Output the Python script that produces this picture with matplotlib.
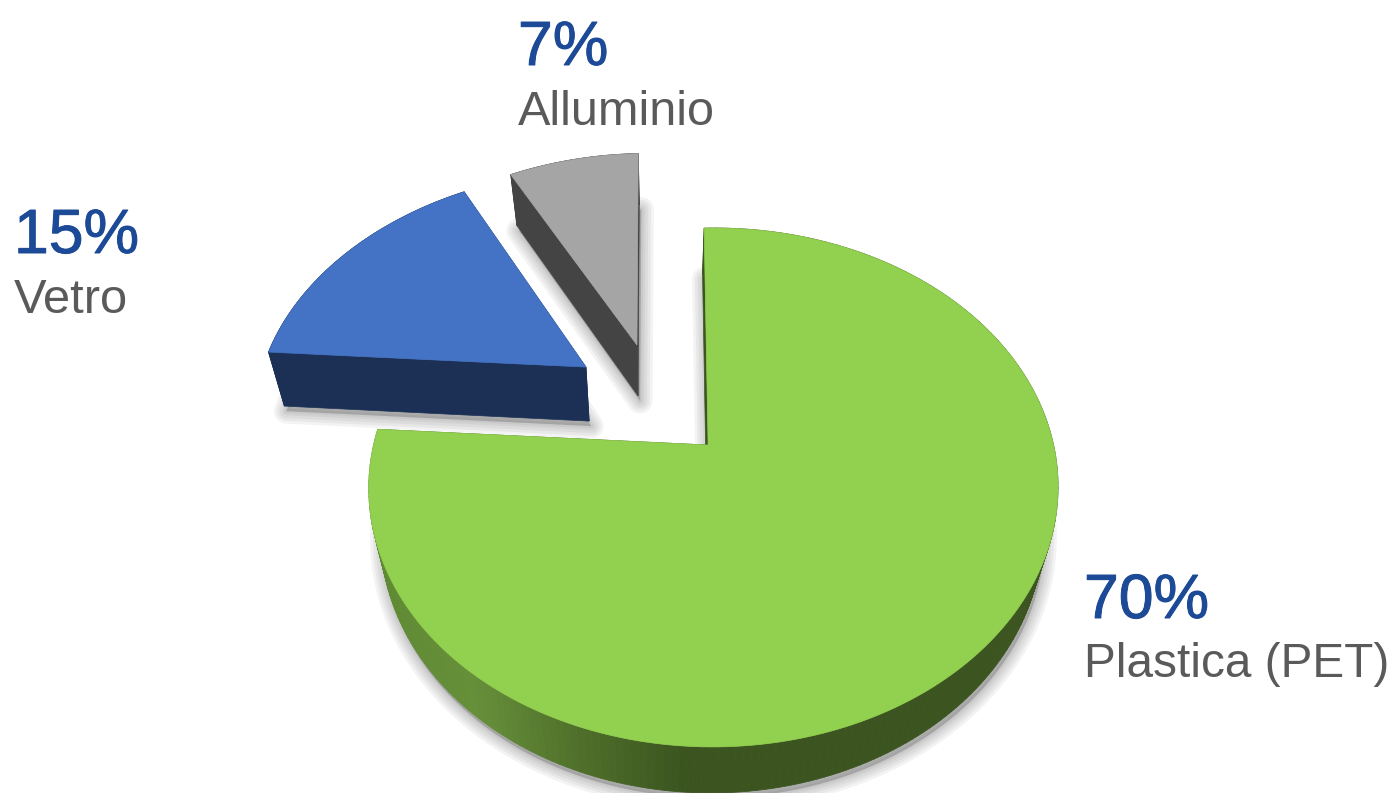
import matplotlib.patheffects as pe
import matplotlib.pyplot as plt
import numpy as np
from matplotlib.colors import LinearSegmentedColormap
from matplotlib.patches import Polygon

plt.switch_backend("Agg")

LABELS = ["Plastica (PET)", "Vetro", "Alluminio"]
SHARES = [70, 15, 7]
PERCENT_TEXT = ["70%", "15%", "7%"]

# exploded offset of each slice on the disc, disc radius = 1
EXPLODE = [(-0.016, 0.0), (-0.412, 0.325), (-0.258, 0.4236)]
APEX_SHIFT = [-0.016, 0.0, 0.0]
RADII = [1.0, 1.0, 1.0]
# small tweak of each slice's start and end angle, the picture is not a clean projection
ANGLE_TRIM = [(-1.2, 0.5), (0.7, -0.8), (-0.8, -1.2)]
DEPTHS = [46, 54, 51]
TOP_COLORS = ["#92d050", "#4472c4", "#a5a5a5"]
SIDE_COLORS = ["#3c5520", "#1b3054", "#444444"]

# label anchors: x, baseline of the percent, baseline of the name, name size
LABEL_POS = [(1084, 618, 677, 34.4), (14, 253, 313, 35.2), (518, 65, 125, 35)]

START_ANGLE = 359.2
CX, CY = 719.0, 445.0
AX, BY, PERSP = 340.0, 252.5, 0.1637
VANISH_X, SPREAD = 665.0, 0.04
TEXT_BLUE = "#1c4a97"
TEXT_GRAY = "#5a5a5a"

rim_cmap = LinearSegmentedColormap.from_list("rim", ["#5f8a33", "#668f3a", "#4f702a", "#3c5520", "#3c5520"])


def project(u, v):
    w = 1.0 + PERSP * v
    return CX + AX * u / w, CY - BY * v / w


def slice_outline(theta1, theta2, radius, offset, apex_shift):
    angles = np.radians(np.linspace(theta1, theta2, 240))
    u = np.concatenate([[apex_shift], radius * np.sin(angles)]) + offset[0]
    v = np.concatenate([[0.0], radius * np.cos(angles)]) + offset[1]
    x, y = project(u, v)
    return np.column_stack([x, y])


def extrude(points, depth):
    out = points.copy()
    out[:, 0] += SPREAD * (VANISH_X - points[:, 0])
    out[:, 1] += depth
    return out


def draw_shadow(ax, bottom):
    for lw in [18, 14, 10, 6, 3]:
        ax.add_patch(Polygon(bottom + [2, 5], closed=True, facecolor="#555555", edgecolor="#555555",
                             linewidth=lw, alpha=0.07, joinstyle="round", zorder=1))


def draw_sides(ax, top, bottom, color, gradient, z):
    # radial faces first, then the rim as thin quads
    for i, j in [(0, 1), (0, len(top) - 1)]:
        quad = np.array([top[i], top[j], bottom[j], bottom[i]])
        ax.add_patch(Polygon(quad, closed=True, facecolor=color, edgecolor=color, linewidth=0.5, zorder=z))
    for k in range(1, len(top) - 1):
        quad = np.array([top[k], top[k + 1], bottom[k + 1], bottom[k]])
        shade = color
        if gradient:
            shade = rim_cmap(np.clip((top[k, 0] - 370.0) / 420.0, 0.0, 1.0))
        ax.add_patch(Polygon(quad, closed=True, facecolor=shade, edgecolor=shade, linewidth=0.6, zorder=z))


def main() -> None:
    plt.rcParams["font.family"] = ["Liberation Sans", "DejaVu Sans"]
    fig = plt.figure(figsize=(13.93, 7.93), dpi=100)
    ax = fig.add_axes([0, 0, 1, 1])
    ax.set_xlim(0, 1393)
    ax.set_ylim(793, 0)
    ax.axis("off")

    spans = np.array(SHARES) / sum(SHARES) * 360.0
    theta1 = START_ANGLE
    for i, span in enumerate(spans):
        start = theta1 + ANGLE_TRIM[i][0]
        end = theta1 + span + ANGLE_TRIM[i][1]
        top = slice_outline(start, end, RADII[i], EXPLODE[i], APEX_SHIFT[i])
        bottom = extrude(top, DEPTHS[i])
        draw_shadow(ax, bottom)
        draw_sides(ax, top, bottom, SIDE_COLORS[i], i == 0, 2 + i)
        ax.add_patch(Polygon(top, closed=True, facecolor=TOP_COLORS[i], edgecolor=TOP_COLORS[i],
                             linewidth=0.5, zorder=2.5 + i))
        theta1 += span

    heavier = [pe.withStroke(linewidth=0.7, foreground=TEXT_BLUE)]
    for name, pct, (x, y_pct, y_name, size) in zip(LABELS, PERCENT_TEXT, LABEL_POS):
        ax.text(x, y_pct, pct, color=TEXT_BLUE, fontsize=45, va="baseline", ha="left", zorder=10,
                path_effects=heavier)
        ax.text(x, y_name, name, color=TEXT_GRAY, fontsize=size, va="baseline", ha="left", zorder=10)

    fig.savefig("out.png", dpi=100)
    plt.close(fig)


if __name__ == "__main__":
    main()
